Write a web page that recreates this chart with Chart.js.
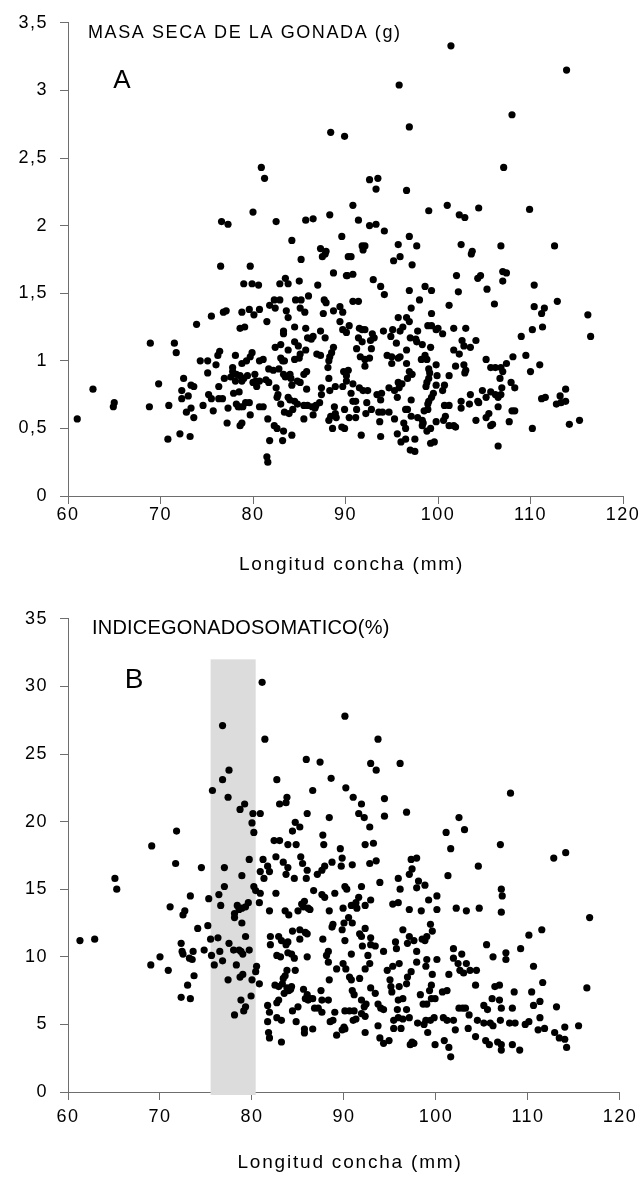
<!DOCTYPE html>
<html>
<head>
<meta charset="utf-8">
<script src="https://cdn.jsdelivr.net/npm/chart.js@4.4.1/dist/chart.umd.min.js"></script>
<style>
  body { margin: 0; background: #fff; }
  .box { position: relative; width: 641px; }
</style>
</head>
<body>
<div class="box" style="height:596px"><canvas id="chartA"></canvas></div>
<div class="box" style="height:581px"><canvas id="chartB"></canvas></div>
<script>
// A: masa seca de la gonada (g) vs longitud de concha (mm)
const lengthA = [
  88.4,89.9,80.9,81.25,80.0,76.6,77.3,82.5,85.7,86.5,88.3,89.6,84.2,87.3,87.9,
  101.4,113.9,95.8,108.0,96.9,107.1,92.6,93.5,93.3,96.6,90.8,101.0,99.0,104.4,102.3,102.9,109.9,91.4,92.6,93.3,94.2,96.9,95.7,97.7,91.8,92.1,91.9,102.5,106.8,112.6,103.7,
  87.8,87.5,90.3,85.2,76.5,79.7,88.7,90.1,79.0,79.9,80.6,82.9,83.5,83.8,85.0,87.0,86.0,84.6,85.2,82.3,82.9,81.8,82.4,80.7,79.6,80.1,78.8,76.8,77.1,75.5,73.9,78.6,79.1,81.5,
  83.6,83.8,85.1,85.6,87.7,87.9,87.6,88.7,89.4,89.7,89.4,89.7,90.1,84.5,85.7,85.9,86.3,86.5,83.3,83.3,87.3,87.8,84.5,84.9,83.0,82.4,83.8,85.7,85.1,85.0,86.9,87.3,
  88.7,88.5,88.3,88.2,83.0,83.2,83.4,84.5,79.9,79.7,79.3,78.8,80.7,81.1,78.1,76.4,76.2,74.3,75.1,76.0,75.1,71.5,71.7,68.9,69.8,62.7,65.0,64.9,61.0,68.8,70.9,70.8,72.1,73.2,
  72.5,73.3,73.6,72.3,72.3,73.0,72.8,73.3,73.6,74.6,75.2,75.5,75.7,76.3,76.3,76.7,76.9,77.3,77.2,77.8,77.8,78.2,78.6,77.6,78.1,78.8,79.0,79.4,77.9,78.5,78.2,78.6,78.9,79.2,79.6,78.4,
  78.6,78.8,79.7,80.2,80.3,80.0,80.7,80.4,80.7,81.1,81.4,81.7,81.7,82.2,82.8,82.5,82.7,82.6,83.0,83.3,83.5,84.0,84.1,84.2,84.8,85.1,85.5,85.8,85.8,83.8,84.0,84.5,84.8,84.3,
  83.4,83.9,85.5,85.9,86.4,86.8,87.2,86.7,85.5,86.5,87.4,87.4,88.3,88.2,88.1,88.9,89.7,89.8,90.1,90.1,88.8,89.9,88.2,88.4,88.9,89.0,88.6,89.6,89.9,81.6,82.3,82.6,83.3,84.2,
  81.8,83.2,81.5,81.6,
  90.6,95.2,95.9,97.2,103.6,90.2,90.8,93.0,93.8,94.2,96.9,98.6,99.3,98.0,102.0,102.2,104.3,104.6,105.3,107.0,107.4,107.0,106.1,110.4,112.9,110.4,111.5,111.2,110.2,111.3,109.0,
  116.2,116.5,90.8,91.4,101.2,97.1,99.3,95.7,96.6,96.9,90.4,91.5,91.8,92.1,92.9,93.1,92.7,94.1,95.1,95.9,96.2,94.9,95.5,97.8,97.0,97.6,97.7,98.3,98.9,99.3,100.0,99.8,100.5,
  99.2,101.7,103.0,102.6,102.8,103.5,104.1,101.7,102.3,91.4,91.8,91.2,92.8,91.6,92.1,92.6,92.1,94.5,95.0,95.0,95.9,95.7,96.6,96.6,98.6,98.2,98.8,99.8,99.0,99.1,99.9,101.2,
  101.9,102.8,103.0,102.9,105.2,105.7,106.2,106.8,107.0,106.7,107.4,108.1,109.5,110.0,111.0,107.9,108.3,90.3,90.8,91.5,91.9,92.4,90.6,90.8,91.1,92.3,93.4,93.9,94.7,95.3,
  95.6,95.7,96.1,95.8,96.9,97.2,96.7,99.0,98.8,98.7,99.8,100.7,100.5,99.5,99.3,99.0,98.9,97.1,93.8,90.4,91.1,91.2,92.2,92.8,93.6,94.0,94.7,93.7,95.3,96.5,96.7,97.1,97.8,
  98.3,98.4,98.5,98.9,96.3,96.5,98.3,98.8,99.2,99.8,100.8,100.6,100.7,101.2,101.2,101.7,101.9,102.5,102.5,103.4,103.5,104.3,104.4,104.8,105.2,105.7,106.2,106.5,106.9,
  106.8,104.1,105.2,105.5,105.7,105.9,106.5,107.7,108.0,108.3,110.2,111.2,111.6,112.8,113.2,113.8,113.8,113.3,114.2,115.3,106.5,91.7,93.8,95.6,96.0,96.5,97.5,97.0,97.5,
  99.2,99.6
];
const massA = [
  2.69,2.66,2.43,2.35,2.10,2.03,2.01,2.03,2.04,2.05,2.08,1.92,1.89,1.83,1.81,
  3.33,3.15,3.04,2.82,2.73,2.43,2.34,2.35,2.27,2.26,2.15,2.15,2.11,2.13,2.08,2.06,2.12,2.04,2.00,2.01,1.96,1.92,1.86,1.85,1.85,1.85,1.82,1.86,1.85,1.85,1.81,
  1.79,1.77,1.77,1.75,1.70,1.70,1.65,1.63,1.57,1.57,1.56,1.57,1.61,1.57,1.59,1.56,1.48,1.45,1.45,1.45,1.45,1.41,1.39,1.38,1.38,1.34,1.36,1.36,1.37,1.33,1.27,1.24,1.25,1.29,
  1.37,1.32,1.39,1.36,1.45,1.43,1.35,1.37,1.40,1.36,1.29,1.23,1.21,1.25,1.24,1.17,1.16,1.18,1.22,1.20,1.22,1.17,1.14,1.11,1.12,1.10,1.08,1.08,1.05,1.02,1.05,1.04,
  1.10,1.06,1.03,1.00,1.02,1.00,1.00,1.01,1.06,1.03,1.00,0.98,1.00,1.01,1.04,1.07,1.04,1.00,1.00,0.97,0.91,1.13,1.06,1.13,0.83,0.79,0.69,0.66,0.57,0.66,0.67,0.42,0.46,0.44,
  0.87,0.82,0.81,0.78,0.72,0.74,0.62,0.65,0.58,0.67,0.75,0.72,0.63,0.81,0.72,0.72,0.87,0.65,0.54,0.95,0.92,0.90,0.89,0.88,0.85,0.85,0.87,0.89,0.76,0.77,0.68,0.66,0.66,0.69,0.69,0.66,
  0.52,0.54,0.60,0.90,0.85,0.84,0.85,0.81,0.66,0.66,0.86,0.84,0.94,0.93,0.94,0.80,0.75,0.73,0.68,0.90,0.88,0.90,0.87,0.82,0.85,0.84,0.90,0.92,0.79,0.73,0.71,0.70,0.68,0.64,
  0.62,0.61,0.67,0.67,0.66,0.67,0.69,0.65,0.57,0.60,0.80,0.75,0.78,0.87,0.95,0.81,0.81,0.92,0.89,0.85,0.66,0.64,0.56,0.59,0.61,0.58,0.50,0.51,0.50,0.57,0.52,0.50,0.48,0.45,
  0.41,0.41,0.29,0.25,
  1.77,1.74,1.77,1.71,1.79,1.63,1.64,1.60,1.55,1.49,1.52,1.55,1.52,1.45,1.63,1.51,1.61,1.63,1.53,1.66,1.65,1.59,1.42,1.56,1.44,1.40,1.39,1.35,1.23,1.25,1.18,
  1.34,1.18,1.44,1.44,1.41,1.39,1.35,1.32,1.32,1.29,1.26,1.24,1.23,1.23,1.20,1.17,1.15,1.22,1.23,1.22,1.25,1.18,1.13,1.22,1.17,1.16,1.14,1.12,1.26,1.26,1.24,1.23,1.20,
  1.10,1.24,1.24,1.15,1.11,1.10,1.15,1.08,1.05,1.17,1.14,1.09,1.09,1.03,1.01,1.02,0.96,1.04,1.03,0.98,1.03,1.02,1.08,0.98,1.04,1.01,1.01,0.97,0.94,0.91,0.89,0.89,
  0.96,0.97,0.93,0.91,1.01,0.95,0.95,0.95,0.92,0.87,0.98,1.03,1.04,0.92,0.97,0.84,0.80,0.93,0.83,0.80,0.78,0.78,0.76,0.70,0.70,0.69,0.75,0.76,0.80,0.78,
  0.73,0.84,0.83,0.80,0.92,0.90,0.87,0.87,0.84,0.81,0.82,0.82,0.78,0.76,0.73,0.70,0.68,0.71,0.71,0.58,0.58,0.64,0.61,0.64,0.62,0.62,0.62,0.55,0.57,0.64,0.64,0.59,0.58,
  0.56,0.54,0.63,0.64,0.54,0.50,0.52,0.48,0.50,0.55,0.59,0.56,0.67,0.67,0.52,0.52,0.51,0.70,0.65,0.68,0.75,0.70,0.69,0.78,0.73,0.77,0.75,0.73,0.80,
  0.75,0.56,0.58,0.61,0.52,0.53,0.66,0.55,0.63,0.63,0.50,0.72,0.73,0.68,0.74,0.79,0.70,0.69,0.53,0.56,0.37,0.45,0.44,0.46,0.40,0.42,0.42,0.34,0.33,
  0.39,0.40
];

// B: indice gonadosomatico (%) vs longitud de concha (mm)
const lengthB = [
  81.1,76.8,90.1,81.4,85.9,87.4,77.5,76.8,82.7,88.6,90.2,75.7,86.6,77.4,83.8,
  93.7,92.9,93.5,96.1,91.0,94.4,108.1,
  83.7,79.2,78.7,83.0,80.1,80.9,80.0,80.2,86.0,88.4,84.7,85.2,84.4,71.8,69.1,82.4,83.0,83.9,84.8,87.7,87.8,89.6,82.6,85.3,85.5,83.4,83.9,83.7,81.2,81.7,81.9,80.9,79.7,
  71.7,74.5,77.0,78.9,81.3,84.6,85.9,86.0,87.1,87.6,87.9,88.7,89.8,89.7,65.1,65.3,77.0,80.2,80.4,80.9,82.6,86.7,87.6,87.9,89.0,90.1,90.3,73.3,75.3,76.4,76.6,71.1,72.7,
  72.5,78.4,78.6,78.1,79.6,79.3,78.9,78.1,80.8,81.9,83.6,84.0,85.0,85.4,85.7,86.1,85.6,86.3,88.4,89.9,78.9,74.1,75.2,79.3,76.3,75.5,77.5,78.0,78.6,79.0,78.8,79.7,74.8,
  76.5,75.6,75.9,76.8,78.3,72.3,72.4,72.5,73.6,73.2,73.5,70.0,69.0,70.9,73.7,73.0,72.3,73.3,61.3,62.9,77.4,78.7,79.0,80.5,80.4,80.0,80.8,78.8,79.3,79.1,78.1,79.9,82.0,
  82.0,82.9,83.2,83.9,83.7,84.4,85.2,86.0,85.2,85.8,87.7,88.8,88.7,90.0,89.8,90.1,82.7,83.1,83.9,84.3,84.6,86.0,88.3,88.1,88.3,89.9,90.2,89.2,88.4,83.8,84.7,83.6,83.4,
  82.5,82.9,83.3,83.8,84.2,84.3,83.5,84.0,85.6,86.0,85.8,86.1,86.3,86.6,87.5,87.6,88.3,86.8,87.2,87.6,89.0,88.8,88.5,90.1,82.7,82.9,81.7,81.9,81.7,82.7,83.2,84.4,85.0,
  84.8,86.6,85.7,85.7,81.8,90.1,89.8,89.2,81.9,83.2,
  91.9,91.6,92.2,94.4,96.8,92.8,102.5,103.1,101.1,101.6,107.0,92.3,93.2,90.9,92.8,93.5,97.3,97.9,97.4,97.1,98.1,98.8,97.9,104.6,101.3,112.8,114.1,95.9,96.1,93.9,91.9,
  99.2,100.1,100.1,107.1,107.2,107.1,95.3,95.9,97.1,98.4,102.2,103.3,104.7,116.7,91.6,91.3,92.9,92.3,90.8,91.4,90.5,90.9,92.3,91.7,91.9,92.9,92.0,92.9,93.4,90.8,92.6,
  92.8,92.3,94.3,95.6,95.7,96.4,97.1,97.6,96.9,98.5,98.8,99.0,99.6,99.4,97.9,97.9,99.0,98.9,100.1,94.7,95.3,96.0,97.3,96.9,96.8,96.0,95.0,95.1,95.2,90.6,90.8,91.7,90.9,
  91.1,92.9,93.4,99.6,99.5,99.3,98.3,100.7,101.2,101.4,101.9,102.8,101.9,102.4,103.3,102.6,103.0,103.7,104.4,105.5,106.2,107.6,107.6,109.2,110.1,111.5,110.6,111.6,104.3,
  106.4,106.9,108.5,110.4,116.4,91.9,92.4,92.2,93.7,94.0,94.3,95.9,96.4,98.6,99.0,99.5,99.9,90.6,91.1,91.9,92.3,91.0,91.3,90.0,92.3,93.7,93.9,95.4,95.8,95.9,96.4,97.1,
  96.8,95.4,96.2,98.0,98.7,98.9,99.4,99.8,99.1,100.8,101.2,101.9,102.5,102.9,103.2,103.6,102.1,103.5,104.3,105.2,105.6,106.1,106.9,107.1,108.3,104.5,105.2,105.9,107.0,
  106.2,108.0,108.6,109.7,110.1,110.6,111.3,111.3,111.1,111.8,113.1,112.9,114.0,115.5,113.4,114.0,
  94.3,94.9,97.2,97.4,97.6,99.9,100.9,101.4,101.6,105.4,105.8,106.7,107.1,107.1,108.3,109.1,114.2
];
const igsB = [
  30.3,27.1,27.8,26.1,24.6,24.4,23.8,23.1,23.1,23.2,22.5,22.3,22.3,21.8,21.8,
  26.1,24.3,23.8,24.3,21.8,21.7,22.1,
  21.4,21.3,20.9,21.3,20.6,20.6,19.9,19.2,20.6,20.3,19.95,19.6,19.3,19.3,18.2,18.6,18.6,18.3,18.3,19.0,18.3,18.0,17.4,17.4,16.9,17.0,16.6,16.1,17.2,16.7,16.3,16.3,17.2,
  16.9,16.6,16.6,16.0,15.8,15.8,15.8,16.4,16.1,16.4,16.7,17.0,17.3,16.7,15.8,15.0,15.2,15.2,14.9,14.7,14.7,14.9,14.6,14.4,14.7,15.2,15.0,14.5,14.3,14.6,13.8,13.7,13.4,
  13.1,13.8,13.5,13.2,14.0,13.7,13.6,12.9,14.0,13.4,13.4,13.1,13.4,13.9,14.1,13.6,13.7,13.5,13.4,13.6,12.5,12.1,12.3,11.5,11.4,11.3,11.0,10.5,10.5,10.2,10.4,10.5,10.5,
  10.4,10.1,9.4,9.7,9.4,11.0,10.4,10.2,10.4,9.9,9.8,10.0,9.4,9.0,8.6,7.9,7.0,6.9,11.2,11.3,8.3,8.5,8.7,9.3,8.9,8.3,8.0,6.8,6.3,6.0,5.7,7.1,11.5,
  10.9,11.5,11.2,11.1,10.9,11.9,12.0,11.7,11.3,11.8,11.3,12.4,12.2,12.5,12.0,11.2,10.1,10.0,10.3,10.2,9.9,10.0,10.4,10.1,9.6,9.5,9.1,9.1,8.3,9.0,9.0,8.6,8.4,
  7.9,7.8,8.0,7.7,7.6,7.8,7.3,7.5,7.6,7.2,6.9,6.8,6.9,6.9,7.5,6.8,6.8,6.2,6.2,5.9,5.9,5.3,5.2,6.0,6.6,6.8,6.4,5.9,5.2,5.5,5.3,6.0,6.3,
  5.2,4.66,4.66,4.37,4.4,4.66,4.6,4.2,4.0,3.7,
  21.3,20.6,20.3,20.4,20.7,19.6,20.3,19.4,19.2,18.0,18.3,18.3,18.4,16.8,16.9,17.1,17.2,17.3,16.5,16.1,15.6,15.3,15.1,16.7,16.0,17.3,17.7,15.8,15.0,15.5,15.2,
  14.2,14.5,13.5,15.0,14.5,13.3,13.9,14.0,13.5,13.4,13.6,13.4,13.6,12.9,14.4,14.0,14.2,13.8,13.8,13.6,12.9,12.5,12.1,11.7,11.5,11.4,10.8,10.9,10.8,10.2,10.1,
  9.5,9.1,10.4,11.1,10.6,12.0,11.5,11.2,11.0,11.3,11.2,11.5,11.9,12.4,10.4,9.6,9.8,9.3,9.8,9.0,9.3,9.5,8.9,8.5,8.0,7.8,8.3,7.8,7.4,8.5,8.3,8.4,7.5,
  7.2,7.7,7.3,8.7,7.9,7.5,7.2,7.4,7.5,8.7,10.6,10.2,9.9,9.5,9.5,9.0,8.8,9.0,9.0,10.9,10.0,10.3,9.8,10.6,11.6,12.0,9.3,8.1,7.9,
  7.8,7.9,7.4,7.4,7.7,6.8,6.5,6.3,6.5,6.2,6.1,6.8,6.9,6.5,6.5,6.9,6.9,6.0,6.0,5.8,5.6,5.3,5.4,4.8,4.4,4.9,4.0,5.3,6.1,5.5,5.4,5.5,
  6.1,4.7,4.7,5.1,5.0,5.3,5.3,5.5,4.4,5.5,5.3,5.3,6.2,6.2,6.2,5.7,4.6,4.7,4.1,6.4,6.1,6.9,6.8,6.2,6.2,5.3,5.1,5.1,5.3,
  4.9,5.1,5.1,5.0,5.2,6.4,6.7,5.5,4.6,4.7,6.3,4.4,4.8,4.9,4.0,3.9,
  3.6,3.8,3.5,3.7,3.6,3.5,3.8,3.3,2.6,3.8,3.5,3.7,3.5,3.1,3.5,3.1,3.3
];

// tick ranges
const xTicks = { min: 60, max: 120, step: 10 };
const yTicksA = { min: 0, max: 3.5, step: 0.5 };
const yTicksB = { min: 0, max: 35, step: 5 };

// shaded length class in panel B (mm) and its height (%)
const bandB = { from: 75.5, to: 80.4, top: 32 };

const FONT = "'Liberation Sans', Arial, sans-serif";
const AXIS = "#6e6e6e";
const X_TITLE = "Longitud concha (mm)";

function toPoints(xs, ys) {
    return xs.map((x, i) => ({ x: x, y: ys[i] }));
}

const bandPlugin = {
    id: "band",
    beforeDraw(chart) {
        chart.ctx.letterSpacing = "1.5px";
    },
    beforeDatasetsDraw(chart, args, opts) {
        if (!opts.band) return;
        const { ctx, scales } = chart;
        const x0 = scales.x.getPixelForValue(opts.band.from);
        const x1 = scales.x.getPixelForValue(opts.band.to);
        const y0 = scales.y.getPixelForValue(opts.band.top);
        const y1 = scales.y.getPixelForValue(0);
        ctx.save();
        ctx.fillStyle = "#dcdcdc";
        ctx.fillRect(x0, y0, x1 - x0, y1 - y0 + 3);
        ctx.restore();
    },
};

const labelPlugin = {
    id: "labels",
    afterDraw(chart, args, opts) {
        const ctx = chart.ctx;
        ctx.save();
        ctx.fillStyle = "#000";
        ctx.textBaseline = "middle";
        ctx.textAlign = "left";
        ctx.font = opts.titleSize + "px " + FONT;
        ctx.letterSpacing = opts.titleSpacing + "px";
        ctx.fillText(opts.title, opts.titleX, opts.titleY);

        ctx.textAlign = "center";
        ctx.letterSpacing = "0px";
        ctx.font = opts.letterSize + "px " + FONT;
        ctx.fillText(opts.letter, opts.letterX, opts.letterY);

        // x axis title
        ctx.font = "19px " + FONT;
        ctx.letterSpacing = "1.8px";
        const area = chart.chartArea;
        ctx.fillText(X_TITLE, (area.left + area.right) / 2 + 6, opts.xTitleY);
        ctx.restore();
    },
};

function makeChart(id, points, yRange, cfg) {
    return new Chart(document.getElementById(id), {
        type: "scatter",
        data: {
            datasets: [{
                data: points,
                backgroundColor: "#000",
                borderWidth: 0,
                pointRadius: 3.6,
                pointHoverRadius: 3.6,
            }],
        },
        options: {
            responsive: true,
            maintainAspectRatio: false,
            animation: false,
            layout: { padding: { top: cfg.top, right: 18, left: 0, bottom: 0 } },
            plugins: {
                legend: { display: false },
                tooltip: { enabled: false },
                band: { band: cfg.band },
                labels: cfg.labels,
            },
            scales: {
                x: {
                    type: "linear",
                    min: xTicks.min,
                    max: xTicks.max,
                    ticks: { stepSize: xTicks.step, color: "#000", font: { family: FONT, size: 18 }, padding: cfg.xPad },
                    grid: { drawOnChartArea: false, drawTicks: true, tickLength: 8, color: AXIS },
                    border: { color: AXIS },
                    afterFit: (s) => { s.height = cfg.xHeight; },
                },
                y: {
                    min: yRange.min,
                    max: yRange.max,
                    ticks: {
                        stepSize: yRange.step,
                        color: "#000",
                        font: { family: FONT, size: 18 },
                        padding: 12,
                        callback: (v) => String(v).replace(".", ","),
                    },
                    grid: { drawOnChartArea: false, drawTicks: true, tickLength: 8, color: AXIS },
                    border: { color: AXIS },
                    afterFit: (s) => { s.width = 68; },
                },
            },
        },
        plugins: [bandPlugin, labelPlugin],
    });
}

makeChart("chartA", toPoints(lengthA, massA), yTicksA, {
    top: 19, xHeight: 100, xPad: 0, band: null,
    labels: {
        title: "MASA SECA DE LA GONADA (g)", titleX: 88, titleY: 33, titleSize: 18, titleSpacing: 1.6,
        letter: "A", letterX: 122, letterY: 81, letterSize: 26, xTitleY: 565,
    },
});

makeChart("chartB", toPoints(lengthB, igsB), yTicksB, {
    top: 17, xHeight: 85, xPad: 6, band: bandB,
    labels: {
        title: "INDICEGONADOSOMATICO(%)", titleX: 92, titleY: 32, titleSize: 20, titleSpacing: 0.2,
        letter: "B", letterX: 134, letterY: 84, letterSize: 28, xTitleY: 567,
    },
});
</script>
</body>
</html>
